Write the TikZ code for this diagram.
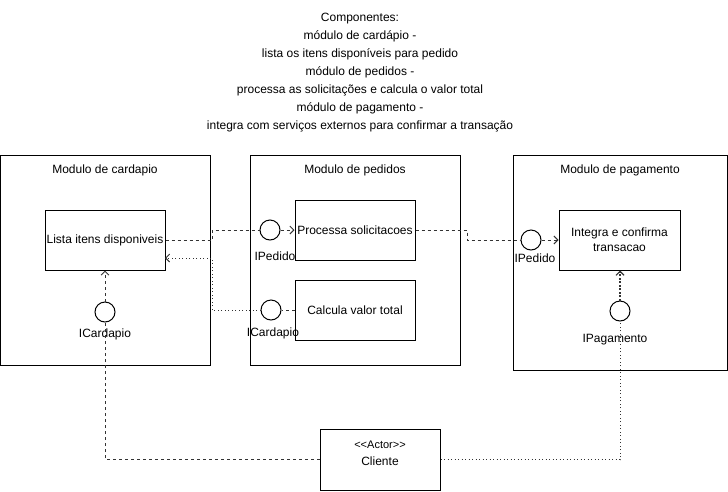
\documentclass[tikz,border=0pt]{standalone}
\usepackage{fontspec}
\setmainfont{Liberation Sans}
\usetikzlibrary{arrows.meta,calc}
\tikzset{
  module/.style={draw=black,line width=1pt,inner sep=0pt},
  comp/.style={draw=black,line width=1pt,inner sep=0pt,minimum width=120pt,minimum height=60pt,align=center,font=\fontsize{12}{15}\selectfont},
  iface/.style={draw=black,line width=1pt,circle,inner sep=0pt,minimum size=20pt},
  lbl/.style={inner sep=0pt,font=\fontsize{12}{14}\selectfont},
  conn/.style={draw=black!80,line width=0.9pt},
  dsh/.style={conn,dash pattern=on 3pt off 3pt},
  dts/.style={conn,dash pattern=on 1pt off 2.5pt},
  thk/.style={conn,line width=1.1pt,dash pattern=on 2pt off 1.5pt},
  tip/.style={-{Straight Barb[length=4pt,width=8pt]}}
}
\begin{document}
\begin{tikzpicture}[x=1pt,y=-1pt]
\useasboundingbox (0,0) rectangle (728,491);
% title
\node[lbl,align=center,font=\fontsize{12}{18}\selectfont] (title) at (360,72.5) {Componentes:\\módulo de cardápio -\\lista os itens disponíveis para pedido\\módulo de pedidos -\\processa as solicitações e calcula o valor total\\módulo de pagamento -\\integra com serviços externos para confirmar a transação};
% modules
\node[module,minimum width=209.5pt,minimum height=210pt] (mcard) at (105.25,260) {};
\node[module,minimum width=209.5pt,minimum height=210pt] (mped) at (355.25,260) {};
\node[module,minimum width=214.5pt,minimum height=215pt] (mpag) at (620.25,262.5) {};
\node[lbl] (tcard) at (105,170) {Modulo de cardapio};
\node[lbl] (tped) at (355,170) {Modulo de pedidos};
\node[lbl] (tpag) at (620,170) {Modulo de pagamento};
% components
\node[comp] (lista) at (105,240) {Lista itens disponiveis};
\node[comp] (proc) at (355,230) {Processa solicitacoes};
\node[comp] (calc) at (355,310) {Calcula valor total};
\node[comp,minimum width=121pt] (integ) at (619.5,240) {Integra e confirma\\transacao};
\node[module,minimum width=120pt,minimum height=61pt] (cliente) at (380,459.5) {};
\node[lbl,align=center,font=\fontsize{11}{17}\selectfont] (clientetxt) at (380,453) {<\kern0pt<Actor>\kern0pt>\\\fontsize{12}{17}\selectfont Cliente};
% interfaces
\node[iface] (iped1) at (270,230) {};
\node[iface] (icard2) at (271,310) {};
\node[iface] (icard1) at (105,312) {};
\node[iface] (iped2) at (531,240) {};
\node[iface] (ipag) at (620,311) {};
\node[lbl] (liped1) at (275,256) {IPedido};
\node[lbl] (licard2) at (273,333) {ICardapio};
\node[lbl] (licard1) at (105,334) {ICardapio};
\node[lbl] (liped2) at (535,258) {IPedido};
\node[lbl] (lipag) at (615,340) {IPagamento};
% junction coordinates
\coordinate (j1) at (212,240);
\coordinate (j2) at (212,310);
\coordinate (listain) at (165,258);
\coordinate (j3) at (467,230);
% connectors
\draw[dsh] (lista.east) -- (j1) |- (iped1.west);
\draw[dsh,tip] (iped1.east) -- (proc.west);
\draw[dsh] (calc.west) -- (icard2.east);
\draw[dts,tip] (icard2.west) -- (j2) |- (listain);
\draw[dsh] (proc.east) -- (j3) |- (iped2.west);
\draw[dsh,tip] (iped2.east) -- (iped2.east -| integ.west);
\draw[dsh] (cliente.west) -| (icard1.south);
\draw[dsh,tip] (icard1.north) -- (lista.south);
\draw[dts] (cliente.east) -| (ipag.south);
\draw[thk,tip] (ipag.north) -- (integ.south -| ipag.north);
\end{tikzpicture}
\end{document}
